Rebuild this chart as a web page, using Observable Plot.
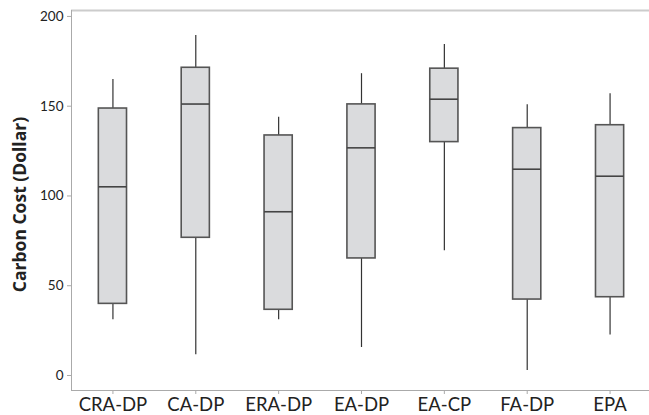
<!DOCTYPE html>
<html>
<head>
<meta charset="utf-8">
<script src="https://cdn.jsdelivr.net/npm/d3@7"></script>
<script src="https://cdn.jsdelivr.net/npm/@observablehq/plot@0.6"></script>
<style>
  html, body { margin: 0; padding: 0; background: #fff; }
  svg { display: block; }
</style>
</head>
<body>
<div id="chart"></div>
<script>
const categories = ["CRA-DP", "CA-DP", "ERA-DP", "EA-DP", "EA-CP", "FA-DP", "EPA"];
const whiskerLow  = [31.0, 11.5, 31.0, 15.6, 69.5, 2.8, 22.5];
const q1          = [39.9, 76.7, 36.6, 65.2, 130.0, 42.3, 43.6];
const median      = [105.1, 151.2, 91.2, 126.8, 153.9, 114.9, 111.0];
const q3          = [148.7, 171.4, 133.7, 151.0, 170.9, 137.8, 139.4];
const whiskerHigh = [164.9, 189.4, 143.9, 168.1, 184.4, 150.8, 156.9];
const yTicks = [0, 50, 100, 150, 200];
const yLabel = "Carbon Cost (Dollar)";

const rows = categories.map((c, i) => ({
  cat: c, lo: whiskerLow[i], q1: q1[i], med: median[i], q3: q3[i], hi: whiskerHigh[i]
}));

const yMin = -8.36, yMax = 203.3;

const chart = Plot.plot({
  width: 649,
  height: 415,
  marginLeft: 71,
  marginRight: 0,
  marginTop: 10,
  marginBottom: 25,
  style: { fontFamily: "Lato, sans-serif", color: "#222", background: "#fff" },
  x: { domain: categories, range: [71, 651], paddingInner: 0.66, paddingOuter: 0.33, align: 0.5, round: false, label: null },
  y: { domain: [yMin, yMax], label: null },
  marks: [
    Plot.ruleY([yMax], { stroke: "#cccccc", strokeWidth: 2 }),
    Plot.ruleX(rows, { x: "cat", y1: "lo", y2: "q1", stroke: "#333", strokeWidth: 1.2 }),
    Plot.ruleX(rows, { x: "cat", y1: "q3", y2: "hi", stroke: "#333", strokeWidth: 1.2 }),
    Plot.barY(rows, { x: "cat", y1: "q1", y2: "q3", fill: "#dadbdd", stroke: "#555", strokeWidth: 1.6 }),
    Plot.tickY(rows, { x: "cat", y: "med", stroke: "#444", strokeWidth: 1.6 }),
    Plot.axisY({ ticks: yTicks, tickSize: 4, tickPadding: 4, fontSize: 13.5, stroke: "#aaa", fill: "#222", label: null, tickFormat: d => d }),
    Plot.axisX({ tickSize: 4, tickPadding: 3, fontSize: 18.5, stroke: "#aaa", fill: "#222", label: null }),
    Plot.text([yLabel], { frameAnchor: "left", dx: -51, dy: 4, rotate: -90, text: d => d, fontSize: 17.5, fontWeight: "bold", fontFamily: "'Open Sans', sans-serif", fill: "#222", textAnchor: "middle" })
  ]
});

const svg = d3.select(chart);
svg.append("line").attr("x1", 71.5).attr("x2", 71.5).attr("y1", 10).attr("y2", 390).attr("stroke", "#aaa");
svg.append("line").attr("x1", 71).attr("x2", 649).attr("y1", 390.5).attr("y2", 390.5).attr("stroke", "#aaa");

document.getElementById("chart").appendChild(chart);
</script>
</body>
</html>
